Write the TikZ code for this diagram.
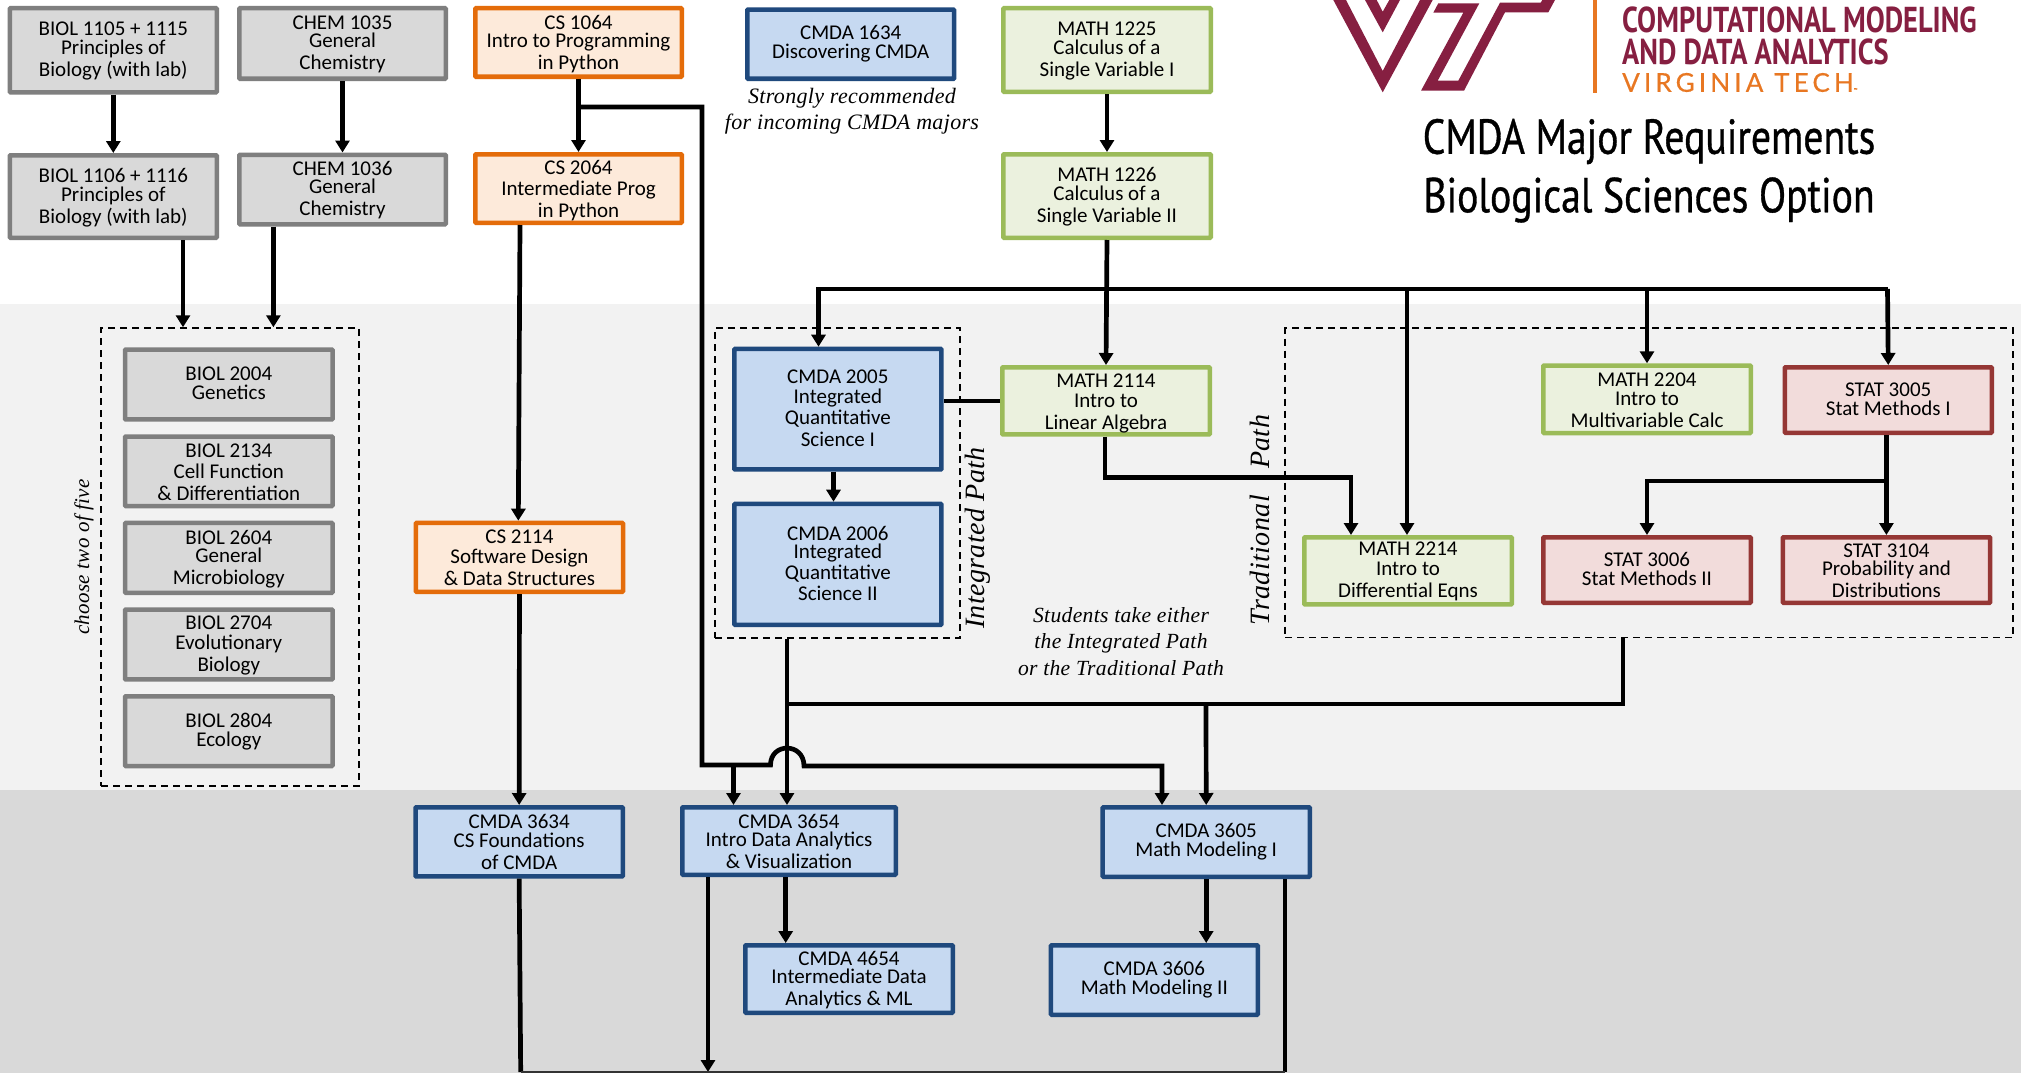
\documentclass[tikz,border=0pt]{standalone}
\usepackage{fontspec}
\usetikzlibrary{arrows.meta}
\setmainfont{Carlito}
\newfontfamily\notefont[LetterSpace=1.5]{Liberation Serif}
\newfontfamily\headfont[FakeStretch=0.81,FakeBold=0.7]{PT Sans}
\newfontfamily\logofont[FakeStretch=0.79]{PT Sans}
\newfontfamily\vtfont[LetterSpace=16,FakeBold=0.5]{Lato}
\definecolor{grayfill}{HTML}{D9D9D9}
\definecolor{grayline}{HTML}{7F7F7F}
\definecolor{orangefill}{HTML}{FDEADA}
\definecolor{orangeline}{HTML}{E46C0A}
\definecolor{bluefill}{HTML}{C6D9F1}
\definecolor{blueline}{HTML}{1F497D}
\definecolor{greenfill}{HTML}{EBF1DE}
\definecolor{greenline}{HTML}{9BBB59}
\definecolor{redfill}{HTML}{F2DCDB}
\definecolor{redline}{HTML}{953735}
\definecolor{bandlight}{HTML}{F2F2F2}
\definecolor{banddark}{HTML}{D9D9D9}
\definecolor{vtmaroon}{HTML}{861F41}
\definecolor{vtorange}{HTML}{E87722}
\tikzset{
  course/.style={draw,line width=4.5pt,inner sep=0pt,align=center,text=black,rounded corners=0.8pt,
    font=\fontsize{21}{22}\selectfont},
  graycourse/.style={course,draw=grayline,fill=grayfill},
  orangecourse/.style={course,draw=orangeline,fill=orangefill},
  bluecourse/.style={course,draw=blueline,fill=bluefill},
  greencourse/.style={course,draw=greenline,fill=greenfill},
  redcourse/.style={course,draw=redline,fill=redfill},
  groupframe/.style={draw=black,line width=1.5pt,dash pattern=on 7pt off 5pt,inner sep=0pt},
  wire/.style={line width=4.7pt,draw=black,line join=miter},
  arrowwire/.style={wire,-{Triangle[width=14pt,length=12pt]}},
  note/.style={inner sep=0pt,align=center,text=black,
    font=\notefont\itshape\fontsize{22}{26.5}\selectfont},
  eithernote/.style={note,font=\notefont\itshape\fontsize{21.6}{26.5}\selectfont},
  sidenote/.style={note,rotate=90,font=\notefont\itshape\fontsize{21}{24}\selectfont},
  bigside/.style={note,rotate=90,font=\notefont\itshape\fontsize{28}{30}\selectfont},
  heading/.style={inner sep=0pt,text=black,font=\headfont\fontsize{49}{52}\selectfont},
  logotext/.style={inner sep=0pt,anchor=west,text=vtmaroon,font=\logofont\bfseries\fontsize{36}{38}\selectfont}
}
\newcommand{\coursebox}[7]{%
  \pgfmathsetmacro\bw{#5-#3-4.5}\pgfmathsetmacro\bh{#6-#4-4.5}%
  \pgfmathsetmacro\bx{(#3+#5)/2}\pgfmathsetmacro\by{(#4+#6)/2}%
  \node[#1,minimum width=\bw pt,minimum height=\bh pt] (#2) at (\bx,\by) {#7};}
\newcommand{\groupbox}[5]{%
  \pgfmathsetmacro\bw{#4-#2}\pgfmathsetmacro\bh{#5-#3}%
  \pgfmathsetmacro\bx{(#2+#4)/2}\pgfmathsetmacro\by{(#3+#5)/2}%
  \node[groupframe,minimum width=\bw pt,minimum height=\bh pt] (#1) at (\bx,\by) {};}
% nudge a box's text down (first line) or up (last line)
\newcommand{\tdn}[1]{\rule{0pt}{\dimexpr 13.5pt+#1pt+#1pt\relax}}
\newcommand{\tup}[1]{\rule[-\dimexpr #1pt+#1pt\relax]{0pt}{\dimexpr #1pt+#1pt\relax}}
\begin{document}
\begin{tikzpicture}[x=1pt,y=-1pt]
\useasboundingbox (0,0) rectangle (2021,1073);
\fill[white] (0,0) rectangle (2021,1073);
\fill[bandlight] (0,304) rectangle (2021,790);
\fill[banddark] (0,790) rectangle (2021,1073);

% logo
\begin{scope}
\clip (0,0) rectangle (2021,1073);
\fill[vtmaroon] (1333.3,0) -- (1382.7,92.3) -- (1432.7,0) -- (1420,0) -- (1382.7,71) -- (1346,0) -- cycle;
\fill[vtmaroon] (1365,0) -- (1382.7,32.3) -- (1400,0) -- (1389.3,0) -- (1382.7,11.7) -- (1376.7,0) -- cycle;
\fill[vtmaroon] (1433.3,12.7) -- (1438.3,3.3) -- (1479.3,3.3) -- (1437.7,80.7) -- (1458.3,80.7) -- (1500,2.7) -- (1540.7,2.7) -- (1542.3,0) -- (1555,0) -- (1548.3,12.3) -- (1505,12.3) -- (1464,90.7) -- (1421,90.7) -- (1463.3,12.7) -- cycle;
\end{scope}
\fill[vtorange] (1593,0) rectangle (1597,93);
\node[logotext] (logoa) at (1622,20) {COMPUTATIONAL MODELING};
\node[logotext] (logob) at (1622,52) {AND DATA ANALYTICS};
\node[inner sep=0pt,anchor=west,text=vtorange,font=\vtfont\fontsize{26}{28}\selectfont] (logoc) at (1622,82.5) {VIRGINIA TECH{\fontsize{5}{5}\selectfont ™}};
\node[heading] (titlea) at (1649,141.5) {CMDA Major Requirements};
\node[heading] (titleb) at (1649,200) {Biological Sciences Option};

% groups
\groupbox{biolgroup}{101}{328}{359}{786}
\groupbox{intgroup}{715}{328}{960}{638}
\groupbox{tradgroup}{1285}{328}{2013}{637.5}

% first year
\coursebox{graycourse}{biola}{7.6}{6}{219}{94.5}{\tdn{1.3}BIOL 1105 + 1115\\[-3pt]Principles of\\Biology (with lab)}
\coursebox{graycourse}{biolb}{7.6}{153}{219}{240}{\tdn{1.3}BIOL 1106 + 1116\\[-3pt]Principles of\\Biology (with lab)}
\coursebox{graycourse}{chema}{237}{6}{448}{81}{\tdn{1.3}CHEM 1035\\[-4pt]General\\Chemistry}
\coursebox{graycourse}{chemb}{237}{152.5}{448}{226.5}{\tdn{1.3}CHEM 1036\\[-4pt]General\\Chemistry}
\coursebox{orangecourse}{csa}{473}{6}{684}{79}{\tdn{1.7}CS 1064\\[-4pt]Intro to Programming\\in Python}
\coursebox{orangecourse}{csb}{473}{152}{684}{225}{\tdn{2}CS 2064\\[-1pt]Intermediate Prog\\in Python}
\coursebox{bluecourse}{discover}{745}{7.3}{956.4}{81}{CMDA 1634\\[-3pt]Discovering CMDA}
\coursebox{greencourse}{matha}{1001}{6}{1213}{94}{\tdn{1.3}MATH 1225\\[-3pt]Calculus of a\\Single Variable I}
\coursebox{greencourse}{mathb}{1001}{152}{1213}{240}{\tdn{1.3}MATH 1226\\[-3pt]Calculus of a\\Single Variable II}

% biology electives
\coursebox{graycourse}{bioc}{122.8}{347.3}{334.8}{421.7}{BIOL 2004\\[-3pt]Genetics\tup{1}}
\coursebox{graycourse}{biod}{122.8}{434.3}{334.8}{508.3}{\tdn{1}BIOL 2134\\[-1pt]Cell Function\\\& Differentiation}
\coursebox{graycourse}{bioe}{122.8}{520.7}{334.8}{595}{\tdn{1.3}BIOL 2604\\[-4pt]General\\Microbiology}
\coursebox{graycourse}{biof}{122.8}{607.3}{334.8}{681.7}{\tdn{1.3}BIOL 2704\\[-2pt]Evolutionary\\Biology}
\coursebox{graycourse}{biog}{122.8}{694}{334.8}{768.3}{BIOL 2804\\[-3pt]Ecology\tup{1.3}}

\coursebox{orangecourse}{csc}{413.6}{520.7}{625.3}{594}{CS 2114\\[-2pt]Software Design\\\& Data Structures}

% integrated path
\coursebox{bluecourse}{intone}{732}{346.7}{943.7}{471.7}{CMDA 2005\\[-2pt]Integrated\\[-1pt]Quantitative\\Science I\tup{1.2}}
\coursebox{bluecourse}{inttwo}{732}{501.7}{943.7}{627}{CMDA 2006\\[-4pt]Integrated\\[-1pt]Quantitative\\[-1pt]Science II\tup{1.2}}
\coursebox{greencourse}{mathc}{1000}{365}{1212}{436.7}{\tdn{2.3}MATH 2114\\[-2pt]Intro to\\Linear Algebra}

% traditional path
\coursebox{greencourse}{mathd}{1541}{363.3}{1753}{435.3}{\tdn{1}MATH 2204\\[-3pt]Intro to\\Multivariable Calc}
\coursebox{redcourse}{statc}{1782.5}{365}{1994}{435}{STAT 3005\\[-3pt]Stat Methods I\tup{0.7}}
\coursebox{greencourse}{mathe}{1302}{535}{1514}{606.7}{\tdn{1}MATH 2214\\[-2pt]Intro to\\Differential Eqns}
\coursebox{redcourse}{statb}{1541}{535}{1753}{605}{STAT 3006\\[-3pt]Stat Methods II\tup{0.7}}
\coursebox{redcourse}{statd}{1780.5}{535}{1992.4}{605}{\tdn{0.7}STAT 3104\\[-4pt]Probability and\\Distributions}

% third year
\coursebox{bluecourse}{found}{413.3}{805}{625}{878.7}{CMDA 3634\\[-3pt]CS Foundations\\of CMDA}
\coursebox{bluecourse}{viz}{680}{805}{898}{877}{CMDA 3654\\[-4pt]Intro Data Analytics\\\& Visualization}
\coursebox{bluecourse}{modela}{1100.4}{805}{1312}{879}{CMDA 3605\\[-3pt]Math Modeling I}
\coursebox{bluecourse}{interm}{743}{943}{955}{1015}{\tdn{1}CMDA 4654\\[-4pt]Intermediate Data\\Analytics \& ML}
\coursebox{bluecourse}{modelb}{1048.7}{943}{1260}{1017}{CMDA 3606\\[-3pt]Math Modeling II}

% notes
\node[note] (noterec) at (852,111) {Strongly recommended\\for incoming CMDA majors};
\node[eithernote] (noteeither) at (1121,641.5) {Students take either\\the Integrated Path\\or the Traditional Path};
\node[sidenote] (notechoose) at (84,557) {choose two of five};
\node[bigside] (noteint) at (978,538) {Integrated Path};
\node[bigside] (notetrad) at (1260,520) {Traditional\hspace{26pt}Path};

% named points on the connectors
\coordinate (xbiol) at (183,0);
\coordinate (xchem) at (273.4,0);
\coordinate (xcsout) at (520,0);
\coordinate (xcsin) at (518.3,0);
\coordinate (busa) at (702,107);
\coordinate (busb) at (702,765);
\coordinate (humpl) at (770.5,765);
\coordinate (humpr) at (804,766);
\coordinate (busc) at (1162,766);
\coordinate (busd) at (733.5,765);
\coordinate (xmerge) at (787,0);
\coordinate (merge) at (787,704);
\coordinate (mergeb) at (1623,704);
\coordinate (mergec) at (1206,704);
\coordinate (topl) at (818.5,289);
\coordinate (topr) at (1887.5,289);
\coordinate (topd) at (1407,289);
\coordinate (tope) at (1647,289);
\coordinate (trada) at (1105,477.3);
\coordinate (tradb) at (1351,477.3);
\coordinate (xint) at (833.5,0);
\coordinate (xstat) at (1886.4,0);
\coordinate (joina) at (1886.4,481);
\coordinate (joinb) at (1647,481);
\coordinate (xtrad) at (1623,0);
\coordinate (xvizout) at (785.7,0);
\coordinate (xviz) at (708,0);
\coordinate (xmodel) at (1285,0);
\coordinate (botl) at (520.7,1072);
\coordinate (botr) at (1285,1072);

% connectors, first year
\draw[arrowwire] (biola.south) -- (biolb.north);
\draw[arrowwire] (chema.south) -- (chemb.north);
\draw[arrowwire] (csa.south) -- (csb.north);
\draw[arrowwire] (matha.south) -- (mathb.north);
\draw[arrowwire] (biolb.south -| xbiol) -- (biolgroup.north -| xbiol);
\draw[arrowwire] (chemb.south -| xchem) -- (biolgroup.north -| xchem);
\draw[arrowwire] (csb.south -| xcsout) -- (csc.north -| xcsin);
\draw[arrowwire] (csc.south) -- (found.north);
\draw[wire] (found.south) -- (botl);

% Python branch with the hump
\draw[arrowwire] (csa.south |- busa) -- (busa) -- (busb) -- (humpl)
  .. controls (770.5,742.3) and (804,742.3) .. (humpr) -- (busc) -- (modela.north -| busc);
\draw[arrowwire] (busd) -- (viz.north -| busd);

% merge of the two paths
\draw[arrowwire] (intgroup.south -| xmerge) -- (viz.north -| xmerge);
\draw[wire] (tradgroup.south -| xtrad) -- (mergeb) -- (merge);
\draw[arrowwire] (mergec) -- (modela.north);

% math bus
\draw[arrowwire] (mathb.south) -- (mathc.north);
\draw[arrowwire] (topr) -- (topl) -- (intone.north -| topl);
\draw[arrowwire] (topd) -- (mathe.north -| topd);
\draw[arrowwire] (tope) -- (mathd.north -| tope);
\draw[arrowwire] (topr) -- (statc.north);
\draw[wire] (mathc.west) -- (mathc.west -| intone.east);
\draw[arrowwire] (intone.south -| xint) -- (inttwo.north -| xint);
\draw[arrowwire] (mathc.south -| trada) -- (trada) -- (tradb) -- (mathe.north -| tradb);
\draw[arrowwire] (statc.south -| xstat) -- (statd.north -| xstat);
\draw[arrowwire] (joina) -- (joinb) -- (statb.north -| joinb);

% third year
\draw[arrowwire] (viz.south -| xvizout) -- (interm.north -| xvizout);
\draw[arrowwire] (modela.south) -- (modelb.north -| modela.south);
\draw[arrowwire] (viz.south -| xviz) -- (botr -| xviz);
\draw[wire] (modela.south -| xmodel) -- (botr);
\draw[line width=1.5pt,draw=black!80] (botl) -- (botr);
\end{tikzpicture}
\end{document}
